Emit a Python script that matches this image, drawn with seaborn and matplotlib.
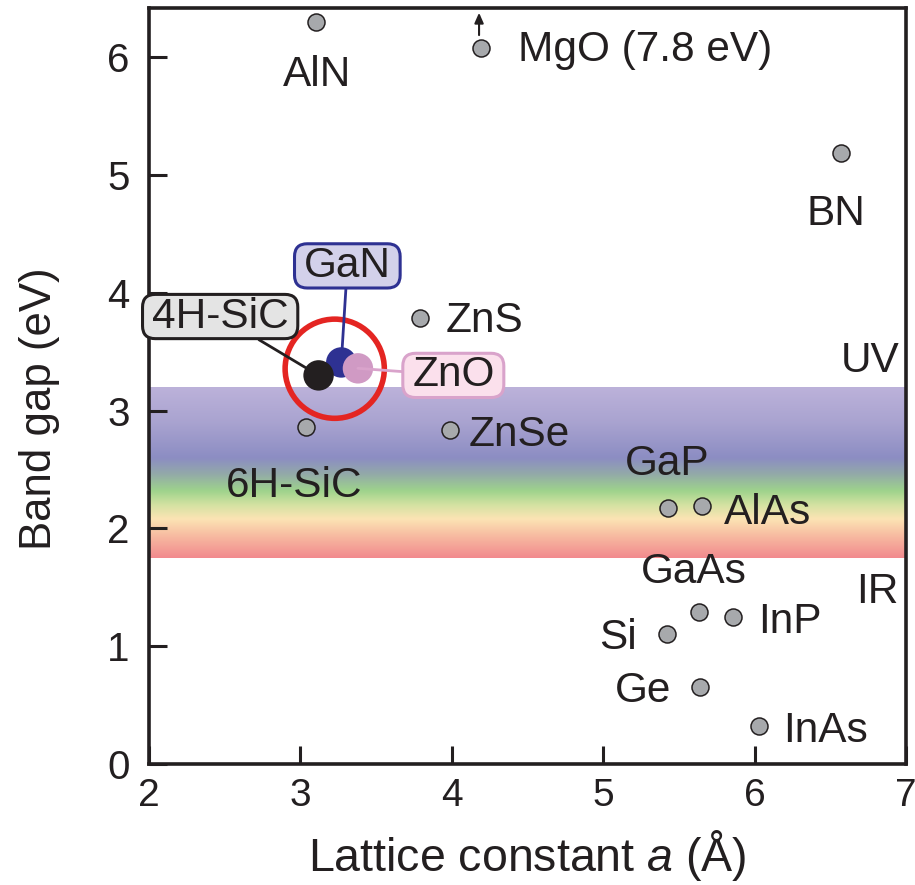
import numpy as np
import pandas as pd
import matplotlib
matplotlib.use("Agg")
import matplotlib.pyplot as plt
from matplotlib.colors import LinearSegmentedColormap
from matplotlib.patches import BoxStyle
import seaborn as sns

# ---- data -------------------------------------------------------------
materials = ["AlN", "MgO", "BN", "ZnS", "6H-SiC", "ZnSe", "GaP", "AlAs",
             "GaAs", "InP", "Si", "Ge", "InAs"]
lattice_a = [3.10, 4.19, 6.57, 3.79, 3.04, 3.99, 5.43, 5.65,
             5.63, 5.86, 5.42, 5.64, 6.03]
band_gap = [6.30, 6.08, 5.19, 3.79, 2.86, 2.84, 2.17, 2.19,
            1.29, 1.25, 1.10, 0.65, 0.32]

wide_names = ["GaN", "4H-SiC", "ZnO"]
wide_a = [3.27, 3.12, 3.38]
wide_gap = [3.41, 3.30, 3.36]

visible_lo, visible_hi = 1.75, 3.2
x_ticks = [2, 3, 4, 5, 6, 7]
y_ticks = [0, 1, 2, 3, 4, 5, 6]

# ---- style ------------------------------------------------------------
sns.set_theme(style="ticks")
INK = "#231f20"
plt.rcParams["font.family"] = ["Liberation Sans", "DejaVu Sans"]
plt.rcParams["mathtext.fontset"] = "custom"
plt.rcParams["mathtext.rm"] = "Liberation Sans"
plt.rcParams["mathtext.it"] = "Liberation Sans:italic"
plt.rcParams["text.color"] = INK

fig = plt.figure(figsize=(9.15, 8.85), dpi=100)
ax = fig.add_axes([149 / 915, 121 / 885, 757 / 915, 756 / 885])

# visible-light band
stops = [(0.000, "#f28a8e"), (0.124, "#f7b9a0"), (0.228, "#fce4b4"),
         (0.310, "#d4e2a2"), (0.393, "#9ed38c"), (0.490, "#93aaa8"),
         (0.586, "#8c8dc3"), (0.793, "#a9a3d0"), (1.000, "#bcb2da")]
cmap = LinearSegmentedColormap.from_list("visible", stops)
grad = np.linspace(0, 1, 256).reshape(-1, 1)
ax.imshow(grad, cmap=cmap, origin="lower", aspect="auto",
          extent=[2, 7, visible_lo, visible_hi], zorder=0,
          interpolation="bicubic")

# ordinary semiconductors
df = pd.DataFrame({"a": lattice_a, "gap": band_gap, "name": materials})
sns.scatterplot(data=df, x="a", y="gap", ax=ax, s=150, color="#a7a9ac",
                edgecolor=INK, linewidth=1.1, zorder=3, legend=False)

FS = 30.5
label_style = dict(fontsize=FS, color=INK, zorder=8)
label_pos = {
    "AlN": (3.11, 5.85, "center"),
    "MgO": (4.44, 6.06, "left"),
    "BN": (6.54, 4.67, "center"),
    "ZnS": (3.96, 3.76, "left"),
    "6H-SiC": (2.96, 2.36, "center"),
    "ZnSe": (4.11, 2.79, "left"),
    "GaP": (5.42, 2.55, "center"),
    "AlAs": (5.80, 2.13, "left"),
    "GaAs": (5.60, 1.63, "center"),
    "InP": (6.02, 1.21, "left"),
    "Si": (5.10, 1.07, "center"),
    "Ge": (5.26, 0.62, "center"),
    "InAs": (6.19, 0.28, "left"),
}
for name in materials:
    x, y, ha = label_pos[name]
    text = "MgO (7.8 eV)" if name == "MgO" else name
    ax.text(x, y, text, ha=ha, va="center", **label_style)

# MgO lies off the scale
mg = materials.index("MgO")
ax.annotate("", xy=(lattice_a[mg] - 0.01, 6.38),
            xytext=(lattice_a[mg] - 0.01, 6.19),
            arrowprops=dict(arrowstyle="-|>,head_length=0.5,head_width=0.22",
                            color=INK, lw=1.5, shrinkA=0, shrinkB=0))

ax.text(6.76, 3.42, "UV", ha="center", va="center", **label_style)
ax.text(6.81, 1.46, "IR", ha="center", va="center", **label_style)

# power-electronics materials
dot_colors = {"GaN": "#2e3192", "4H-SiC": "#231f20", "ZnO": "#d09ac4"}
box_face = {"GaN": "#d3d1ea", "4H-SiC": "#e4e4e4", "ZnO": "#fbe0ec"}
box_edge = {"GaN": "#2e3192", "4H-SiC": "#231f20", "ZnO": "#d9a3cb"}
box_pos = {"GaN": (3.31, 4.23), "4H-SiC": (2.47, 3.80), "ZnO": (4.01, 3.30)}

wdf = pd.DataFrame({"a": wide_a, "gap": wide_gap, "name": wide_names})
sns.scatterplot(data=wdf, x="a", y="gap", hue="name", palette=dot_colors,
                s=480, linewidth=0, ax=ax, zorder=5, legend=False)


def wide_round(x0, y0, width, height, mutation_size):
    """Rounded box with more padding at the sides than top/bottom."""
    padx = 0.22 * mutation_size
    pady = 0.05 * mutation_size
    rounder = BoxStyle.Round(pad=0, rounding_size=0.3)
    return rounder(x0 - padx, y0 - pady, width + 2 * padx,
                   height + 2 * pady, mutation_size)


for name, a, g in zip(wide_names, wide_a, wide_gap):
    bx, by = box_pos[name]
    ax.annotate(name, xy=(a, g), xytext=(bx, by), textcoords="data",
                ha="center", va="center", fontsize=FS, color=INK, zorder=7,
                bbox=dict(boxstyle=wide_round, fc=box_face[name],
                          ec=box_edge[name], lw=2.2),
                arrowprops=dict(arrowstyle="-", color=box_edge[name], lw=2,
                                shrinkA=0, shrinkB=0))

# highlight ring around the trio
ax.scatter([np.mean(wide_a) - 0.03], [np.mean(wide_gap)], s=5100,
           facecolor="none", edgecolor="#e42522", linewidth=4.0, zorder=6)

# ---- axes -------------------------------------------------------------
ax.set_xlim(2, 7)
ax.set_ylim(0, 6.42)
ax.set_xticks(x_ticks)
ax.set_yticks(y_ticks)
ax.tick_params(axis="both", direction="in", length=13, width=2.2,
               color=INK, labelcolor=INK, labelsize=29)
ax.tick_params(axis="y", pad=14)
ax.tick_params(axis="x", pad=10, labelsize=28)
for side in ["left", "right", "top", "bottom"]:
    ax.spines[side].set_visible(True)
    ax.spines[side].set_linewidth(2.6)
    ax.spines[side].set_color(INK)
ax.set_facecolor("white")
ax.grid(False)

ax.set_xlabel("Lattice constant $a$ (Å)", fontsize=33.5, color=INK,
              labelpad=10)
ax.set_ylabel("Band gap (eV)", fontsize=31.5, color=INK)
ax.yaxis.set_label_coords(-0.118, 0.47)

fig.savefig("out.png", dpi=100, facecolor="white")
